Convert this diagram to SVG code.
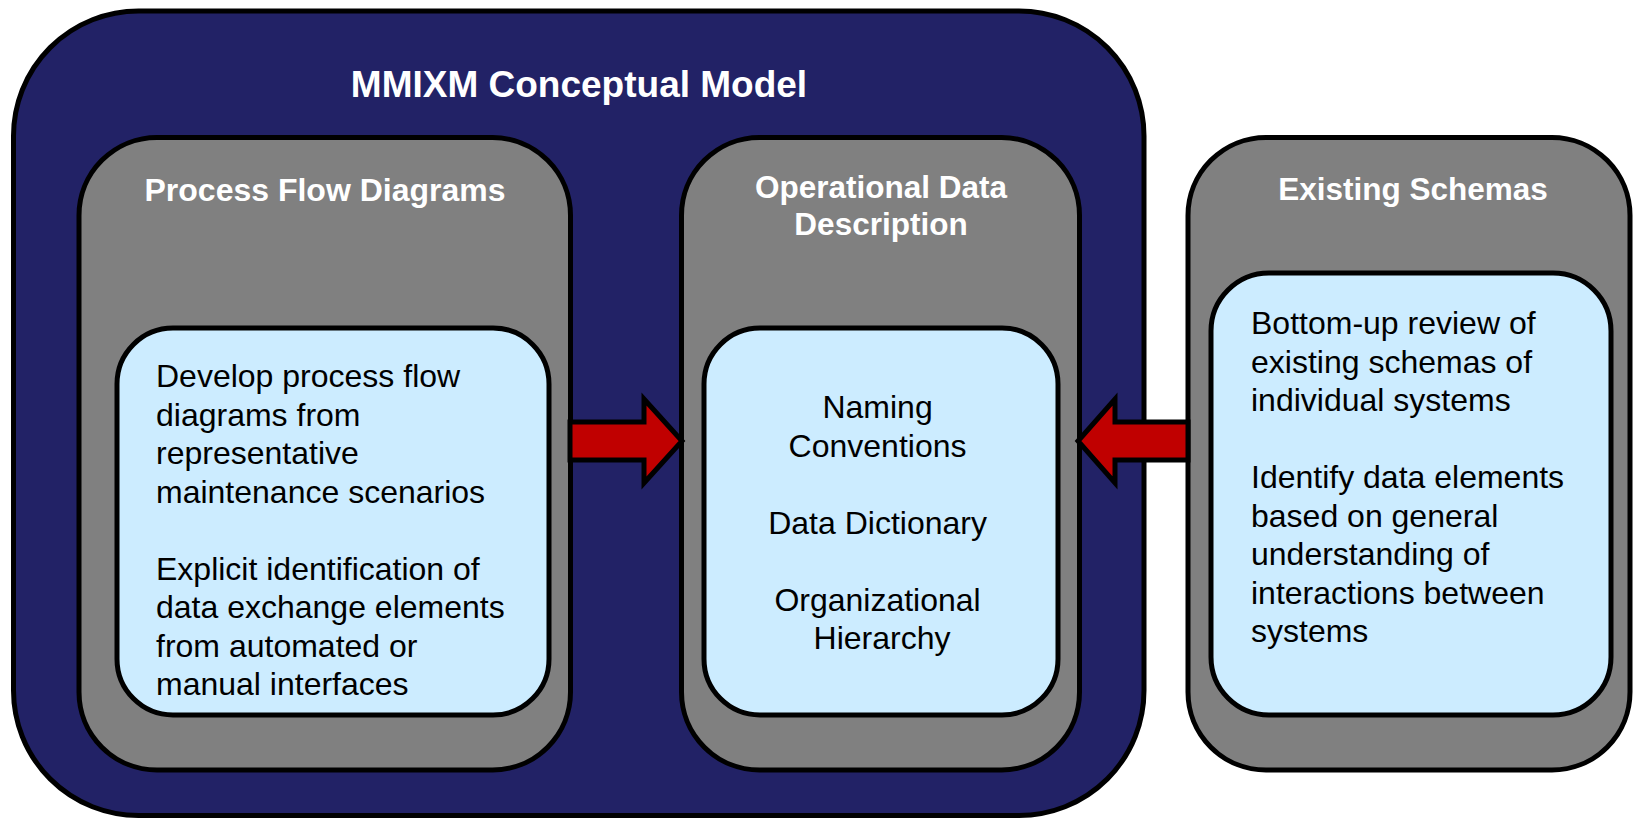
<svg xmlns="http://www.w3.org/2000/svg" width="1633" height="818" viewBox="0 0 1633 818">
<style>
.outer{fill:#222266;stroke:#000;stroke-width:5}
.gray{fill:#808080;stroke:#000;stroke-width:5}
.inner{fill:#CCECFF;stroke:#000;stroke-width:5}
.arrow{fill:#C00000;stroke:#000;stroke-width:5;stroke-linejoin:miter}
.h{font-family:"Liberation Sans",Arial,sans-serif;font-weight:bold;fill:#fff;text-anchor:middle}
.t{font-family:"Liberation Sans",Arial,sans-serif;font-size:32px;fill:#000}
.c{text-anchor:middle}
</style>
<rect width="1633" height="818" fill="#fff"/>
<g id="mmixm-conceptual-model">
<rect class="outer" x="13.5" y="11" width="1130.5" height="804.5" rx="125" ry="125"/>
<text class="h" x="579" y="97" font-size="37">MMIXM Conceptual Model</text>
</g>
<g id="process-flow-diagrams">
<rect class="gray" x="79" y="137.5" width="491.5" height="632.5" rx="78" ry="78"/>
<text class="h" x="325" y="201" font-size="32">Process Flow Diagrams</text>
<rect class="inner" x="117" y="328" width="432" height="387" rx="56" ry="56"/>
<text class="t">
<tspan x="156" y="387">Develop process flow</tspan>
<tspan x="156" y="425.5">diagrams from</tspan>
<tspan x="156" y="464">representative</tspan>
<tspan x="156" y="502.5">maintenance scenarios</tspan>
<tspan x="156" y="579.5">Explicit identification of</tspan>
<tspan x="156" y="618">data exchange elements</tspan>
<tspan x="156" y="656.5">from automated or</tspan>
<tspan x="156" y="695">manual interfaces</tspan>
</text>
</g>
<g id="operational-data-description">
<rect class="gray" x="681.5" y="137.5" width="398" height="632.5" rx="78" ry="78"/>
<text class="h" font-size="31.5"><tspan x="881" y="198">Operational Data</tspan><tspan x="881" y="235">Description</tspan></text>
<rect class="inner" x="704" y="328" width="354" height="387" rx="56" ry="56"/>
<text class="t c">
<tspan x="882" y="418">Naming</tspan>
<tspan x="882" y="456.5">Conventions</tspan>
<tspan x="882" y="533.5">Data Dictionary</tspan>
<tspan x="882" y="610.5">Organizational</tspan>
<tspan x="882" y="649">Hierarchy</tspan>
</text>
</g>
<g id="existing-schemas">
<rect class="gray" x="1188" y="137.5" width="442" height="632.5" rx="78" ry="78"/>
<text class="h" x="1413" y="200" font-size="31.5">Existing Schemas</text>
<rect class="inner" x="1211" y="273" width="400" height="442" rx="58" ry="58"/>
<text class="t">
<tspan x="1251" y="334">Bottom-up review of</tspan>
<tspan x="1251" y="372.5">existing schemas of</tspan>
<tspan x="1251" y="411">individual systems</tspan>
<tspan x="1251" y="488">Identify data elements</tspan>
<tspan x="1251" y="526.5">based on general</tspan>
<tspan x="1251" y="565">understanding of</tspan>
<tspan x="1251" y="603.5">interactions between</tspan>
<tspan x="1251" y="642">systems</tspan>
</text>
</g>
<g id="connectors">
<polygon class="arrow" points="570,422 644,422 644,399 682,441 644,483 644,460 570,460"/>
<polygon class="arrow" points="1188,422 1115,422 1115,399 1078,441 1115,483 1115,460 1188,460"/>
</g>
</svg>
